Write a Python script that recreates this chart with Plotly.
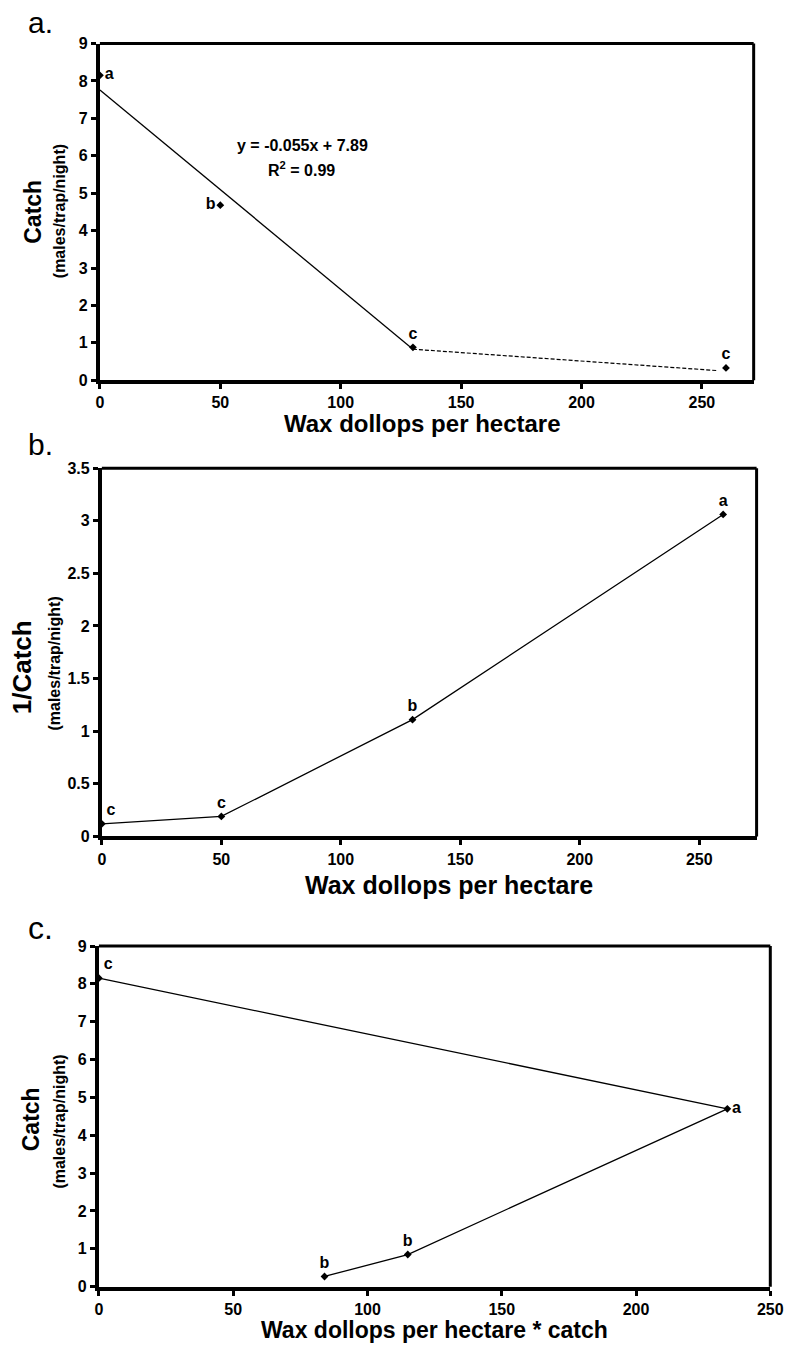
import plotly.graph_objects as go

# ---- data -----------------------------------------------------------------
# a. catch against wax dollop density
dollops_a = [0, 50, 130, 260]
catch_a = [8.15, 4.68, 0.88, 0.33]
letters_a = ["a", "b", "c", "c"]
fit_x = [0, 130]          # solid fitted segment
fit_y = [7.76, 0.83]
tail_x = [130, 256]       # dashed extension
tail_y = [0.83, 0.26]
equation = "y = -0.055x + 7.89"
r_squared = "R<sup>2</sup> = 0.99"

# b. reciprocal of catch
dollops_b = [0, 50, 130, 260]
inv_catch_b = [0.12, 0.19, 1.11, 3.06]
letters_b = ["c", "c", "b", "a"]

# c. catch against density x catch
product_c = [0, 234, 115, 84]
catch_c = [8.15, 4.7, 0.85, 0.27]
letters_c = ["c", "a", "b", "b"]

ticks_x = [0, 50, 100, 150, 200, 250]
ticks_y_catch = list(range(0, 10))
ticks_y_inv = [0, 0.5, 1, 1.5, 2, 2.5, 3, 3.5]

# ---- styling --------------------------------------------------------------
W, H = 797, 1350
FONT = "Liberation Sans, Arial, Helvetica, sans-serif"


def px_x(p):
    return p / W


def px_y(p):
    return 1 - p / H


def bold(v):
    return f"<b>{v:g}</b>"


fig = go.Figure()

LINE = dict(color="black", width=1.3)
MARK = dict(symbol="diamond", size=6, color="black")
LABEL_FONT = dict(family=FONT, size=16, color="black", weight="bold")

# panel a
fig.add_trace(go.Scatter(x=fit_x, y=fit_y, mode="lines", line=LINE,
                         xaxis="x", yaxis="y", hoverinfo="skip"))
fig.add_trace(go.Scatter(x=tail_x, y=tail_y, mode="lines",
                         line=dict(color="black", width=1.2, dash="4px,2px"),
                         xaxis="x", yaxis="y", hoverinfo="skip"))
fig.add_trace(go.Scatter(x=dollops_a, y=catch_a, mode="markers+text",
                         marker=MARK, text=letters_a,
                         textposition=["middle right", "middle left",
                                       "top center", "top center"],
                         textfont=LABEL_FONT, cliponaxis=False,
                         xaxis="x", yaxis="y"))

# panel b
fig.add_trace(go.Scatter(x=dollops_b, y=inv_catch_b, mode="lines+markers+text",
                         line=LINE, marker=MARK, text=letters_b,
                         textposition=["top right", "top center",
                                       "top center", "top center"],
                         textfont=LABEL_FONT, cliponaxis=False,
                         xaxis="x2", yaxis="y2"))

# panel c
fig.add_trace(go.Scatter(x=product_c, y=catch_c, mode="lines+markers+text",
                         line=LINE, marker=MARK, text=letters_c,
                         textposition=["top right", "middle right",
                                       "top center", "top center"],
                         textfont=LABEL_FONT, cliponaxis=False,
                         xaxis="x3", yaxis="y3"))

TICKFONT = dict(family=FONT, size=16, color="black")


def x_axis(domain, rng, anchor):
    return dict(domain=domain, range=rng, anchor=anchor,
                tickvals=ticks_x, ticktext=[bold(v) for v in ticks_x],
                ticks="outside", ticklen=5, tickwidth=3,
                tickcolor="black", showline=True, linewidth=4,
                linecolor="black", showgrid=False, zeroline=False,
                tickfont=TICKFONT, fixedrange=True)


def y_axis(domain, rng, anchor, vals):
    return dict(domain=domain, range=rng, anchor=anchor,
                tickvals=vals, ticktext=[bold(v) for v in vals],
                ticks="outside", ticklen=5, tickwidth=3,
                tickcolor="black", showline=True, linewidth=4,
                linecolor="black", showgrid=False, zeroline=False,
                tickfont=TICKFONT, fixedrange=True)


layout = dict(
    width=W, height=H,
    margin=dict(l=0, r=0, t=0, b=0),
    paper_bgcolor="white", plot_bgcolor="white",
    showlegend=False,
    xaxis=x_axis([px_x(98), px_x(766)], [0, 271.5], "y"),
    yaxis=y_axis([px_y(377), px_y(36)], [0, 9], "x", ticks_y_catch),
    xaxis2=x_axis([px_x(100), px_x(769)], [0, 274], "y2"),
    yaxis2=y_axis([px_y(839), px_y(466)], [0, 3.5], "x2", ticks_y_inv),
    xaxis3=x_axis([px_x(97), px_x(783)], [0, 250], "y3"),
    yaxis3=y_axis([px_y(1295), px_y(950)], [0, 9], "x3", ticks_y_catch),
)
fig.update_layout(**layout)

# top and right frame edges of each panel
shapes = []
for xa, ya in [("x", "y"), ("x2", "y2"), ("x3", "y3")]:
    shapes.append(dict(type="line", xref=f"{xa} domain", yref=f"{ya} domain",
                       x0=0, x1=1, y0=1, y1=1,
                       line=dict(color="black", width=3)))
    shapes.append(dict(type="line", xref=f"{xa} domain", yref=f"{ya} domain",
                       x0=1, x1=1, y0=0, y1=1,
                       line=dict(color="black", width=3)))
fig.update_layout(shapes=shapes)


def note(text, x, y, size, heavy=True, angle=0, xanchor="center",
         yanchor="middle"):
    fig.add_annotation(text=text, x=px_x(x), y=px_y(y), xref="paper",
                       yref="paper", showarrow=False, textangle=angle,
                       xanchor=xanchor, yanchor=yanchor,
                       font=dict(family=FONT, size=size, color="black",
                                 weight="bold" if heavy else "normal"))


# panel letters
note("a.", 22, 15, 30, heavy=False, xanchor="left")
note("b.", 22, 442, 30, heavy=False, xanchor="left")
note("c.", 22, 932, 32, heavy=False, xanchor="left")

# axis titles
note("Wax dollops per hectare", 428, 421, 24)
note("Wax dollops per hectare", 455, 888, 25)
note("Wax dollops per hectare * catch", 440, 1339, 23)

note("Catch", 30, 206, 23, angle=-90)
note("(males/trap/night)", 57, 206, 16, angle=-90)
note("1/Catch", 18, 668, 26, angle=-90)
note("(males/trap/night)", 52, 664, 16, angle=-90)
note("Catch", 27, 1125, 23, angle=-90)
note("(males/trap/night)", 57, 1128, 16, angle=-90)

# regression equation
note(equation, 305, 139, 16)
note(r_squared, 304, 163, 16)

fig.write_html("out.html")
